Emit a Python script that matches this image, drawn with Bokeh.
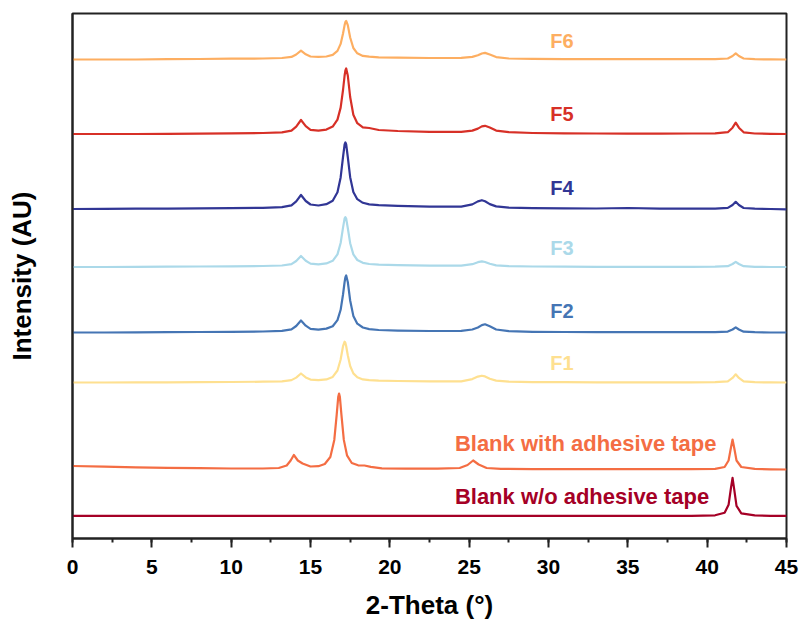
from bokeh.plotting import figure
from bokeh.models import Range1d, SingleIntervalTicker, FixedTicker, Label
from bokeh.embed import file_html
from bokeh.resources import INLINE

# ---- data -----------------------------------------------------------------
# 2-theta sampling for the six formulations
f_theta = [0, 2, 4, 6, 8, 10, 12, 13.2, 13.8, 14.1, 14.4, 14.7, 15.0, 15.5,
           16.0, 16.4, 16.7, 16.9, 17.05, 17.15, 17.2, 17.25, 17.35, 17.5,
           17.7, 17.95, 18.3, 18.7, 19.3, 20.5, 22.5, 24.5, 25.2, 25.55, 25.8,
           26.0, 26.3, 26.7, 27.5, 29, 31, 33, 35, 37, 39, 40.5, 41.3, 41.6,
           41.8, 42.0, 42.3, 43, 44, 45]

f6 = [0, 0, 0, 0.3, 0.5, 0.8, 1.0, 1.5, 2.6, 5.0, 8.8, 5.2, 3.0, 2.6,
      3.0, 4.6, 8.6, 15.6, 26.0, 34.4, 37.5, 38.5, 34.4, 22.0,
      11.5, 6.2, 3.6, 2.8, 2.2, 1.8, 1.5, 1.6, 2.6, 4.2, 6.0,
      6.6, 5.0, 2.4, 1.0, 0.6, 0.4, 0.3, 0.3, 0.3, 0.3, 0.4, 1.0, 3.5,
      6.2, 3.5, 1.0, 0.3, 0.1, 0]
f5 = [0, 0, 0, 0.2, 0.4, 0.6, 1.0, 1.6, 3.4, 7.4, 14.0, 7.8, 4.2, 3.3,
      4.4, 7.4, 14.4, 26.4, 44.0, 58.5, 63.5, 65.5, 58.5, 37.0,
      19.2, 10.8, 6.6, 6.0, 4.0, 3.0, 2.2, 2.2, 3.4, 5.4, 7.6,
      8.2, 6.5, 3.4, 1.8, 1.0, 0.6, 0.5, 0.4, 0.4, 0.5, 0.7, 1.8, 6.3,
      11.4, 6.3, 1.7, 0.5, 0.2, 0]
f4 = [0, 0.2, 0.3, 0.4, 0.6, 0.8, 1.2, 1.8, 3.6, 7.6, 14.0, 8.0, 4.5, 3.5,
      4.8, 8.2, 16.8, 31.6, 52.0, 64.5, 66.5, 64.5, 52.0, 31.8,
      17.0, 9.8, 6.2, 4.6, 3.8, 3.2, 2.4, 2.4, 4.6, 7.6, 8.8,
      7.8, 4.9, 2.6, 1.3, 0.8, 0.6, 0.5, 1.0, 0.4, 0.3, 0.4, 1.1, 4.0,
      7.2, 4.0, 1.0, 0.3, 0, -0.3]
f3 = [0, 0, 0.2, 0.3, 0.5, 0.7, 1.0, 1.5, 2.9, 6.0, 11.0, 6.2, 3.4, 2.7,
      3.6, 6.2, 12.6, 24.0, 39.4, 48.6, 49.8, 48.4, 39.0, 23.8,
      12.6, 7.0, 4.2, 3.0, 2.3, 1.8, 1.4, 1.4, 2.8, 4.8, 5.6,
      5.0, 3.2, 1.6, 0.8, 0.5, 0.3, 0.2, 0.2, 0.2, 0.2, 0.3, 0.8, 3.0,
      5.2, 3.0, 0.8, 0.2, 0, 0]
f2 = [0, 0, 0.2, 0.3, 0.5, 0.7, 1.0, 1.6, 3.1, 6.5, 12.0, 6.8, 3.7, 2.9,
      3.9, 6.3, 12.4, 22.7, 38.0, 50.5, 55.2, 57.0, 50.6, 32.0,
      16.6, 8.8, 5.0, 3.4, 2.5, 1.9, 1.5, 1.6, 3.0, 5.0, 7.4,
      8.2, 6.2, 3.0, 1.3, 0.7, 0.5, 0.4, 0.3, 0.3, 0.3, 0.4, 0.9, 3.0,
      5.2, 3.0, 0.8, 0.3, 0, 0]
f1 = [0, 0, 0.1, 0.2, 0.3, 0.5, 0.8, 1.2, 2.4, 4.9, 9.0, 5.1, 2.9, 2.3,
      3.1, 5.6, 12.0, 23.0, 36.3, 40.8, 39.6, 36.3, 27.3, 16.5,
      9.1, 5.3, 3.1, 2.3, 1.8, 1.5, 1.2, 1.2, 3.4, 5.9, 6.8,
      6.1, 3.8, 1.9, 0.8, 0.4, 0.3, 0.2, 0.2, 0.2, 0.2, 0.4, 1.2, 4.6,
      8.2, 4.6, 1.2, 0.3, 0.1, 0]

# 2-theta sampling for the two blanks
blank_theta = [0, 2, 4, 6, 8, 10, 12, 13.0, 13.5, 13.75, 13.95, 14.2, 14.5,
               15.0, 15.5, 15.9, 16.25, 16.5, 16.65, 16.75, 16.8, 16.85, 16.95,
               17.1, 17.3, 17.6, 18.0, 18.4, 18.8, 19.5, 21, 23,
               24.4, 24.9, 25.25, 25.6, 26.1, 27, 29, 31, 33, 35, 37, 39, 40.5,
               41.1, 41.35, 41.5, 41.6, 41.7, 41.85, 42.15, 43, 44, 45]
blank_tape = [3.5, 2.8, 2.2, 1.7, 1.3, 1.0, 1.0, 1.5, 4.0, 9.0, 14.5, 9.0, 6.0,
              3.0, 3.3, 5.5, 12.5, 29.6, 54.6, 72.8, 76.0, 72.8, 54.6,
              29.6, 14.2, 6.5, 4.2, 4.0, 2.6, 1.2, 0.8, 0.8,
              1.5, 4.5, 9.0, 5.0, 1.5, 0.6, 0.4, 0.3, 0.3, 0.3, 0.3, 0.3, 0.6,
              2.5, 9.0, 22.0, 30.0, 22.0, 9.0, 2.5, 0.6, 0.2, 0.0]
blank_no_tape = [0, 0, 0, 0, 0, 0, 0, 0, 0, 0, 0, 0, 0,
                 0, 0, 0, 0, 0, 0, 0, 0, 0, 0,
                 0, 0, 0, 0, 0, 0, 0, 0, 0,
                 0, 0, 0, 0, 0, 0, 0, 0, 0, 0, 0, 0, 0.5,
                 3.0, 11.0, 28.0, 38.0, 27.0, 10.0, 2.5, 0.5, 0, 0]

sample_names = ["F6", "F5", "F4", "F3", "F2", "F1",
                "Blank with adhesive tape", "Blank w/o adhesive tape"]
sample_theta = [f_theta] * 6 + [blank_theta, blank_theta]
sample_counts = [f6, f5, f4, f3, f2, f1, blank_tape, blank_no_tape]
# vertical stacking offset of each pattern
stack_offset = [479, 404.5, 329.5, 271.5, 206, 156, 69, 22.7]

# ---- styling ----------------------------------------------------------------
colors = ["#FDAE61", "#D73027", "#313695", "#ABD9E9", "#4575B4", "#FEE090",
          "#F46D43", "#A50026"]
label_x = [30.85, 30.85, 30.85, 30.85, 30.85, 30.85, 24.1, 24.1]
label_y = [497.3, 425, 351, 291, 228, 176, 95, 42]
label_align = ["center"] * 6 + ["left", "left"]
label_size = ["20px"] * 6 + ["22px", "22px"]

FONT = "Liberation Sans"
INK = "#222222"

p = figure(width=800, height=622, title=None,
           x_range=Range1d(0, 45), y_range=Range1d(0, 525),
           output_backend="svg", toolbar_location=None,
           min_border_left=72, min_border_right=14,
           min_border_top=13, min_border_bottom=84)
p.xgrid.visible = False
p.ygrid.visible = False
p.outline_line_color = INK
p.outline_line_width = 2
p.background_fill_color = "white"
p.border_fill_color = "white"

for theta, counts, off, col in zip(sample_theta, sample_counts, stack_offset, colors):
    p.line(theta, [c + off for c in counts], line_color=col, line_width=2.2,
           line_join="round")

for name, x, y, col, al, sz in zip(sample_names, label_x, label_y, colors,
                                   label_align, label_size):
    p.add_layout(Label(x=x, y=y, text=name, text_color=col, text_font=FONT,
                       text_font_style="bold", text_font_size=sz,
                       text_align=al, text_baseline="middle"))

xa = p.xaxis[0]
xa.ticker = SingleIntervalTicker(interval=5, num_minor_ticks=2)
xa.axis_line_width = 2
xa.axis_line_color = INK
xa.major_tick_line_width = 2
xa.major_tick_line_color = INK
xa.minor_tick_line_width = 2
xa.minor_tick_line_color = INK
xa.major_tick_in = 0
xa.major_tick_out = 9
xa.minor_tick_in = 0
xa.minor_tick_out = 4
xa.major_label_text_font = FONT
xa.major_label_text_font_style = "bold"
xa.major_label_text_font_size = "21px"
xa.major_label_text_color = "black"
xa.major_label_standoff = 12
xa.axis_label = "2-Theta (°)"
xa.axis_label_text_font = FONT
xa.axis_label_text_font_style = "bold"
xa.axis_label_text_font_size = "26px"
xa.axis_label_text_color = "black"
xa.axis_label_standoff = 13

ya = p.yaxis[0]
ya.ticker = FixedTicker(ticks=[])
ya.axis_line_width = 2
ya.axis_line_color = INK
ya.major_tick_line_color = None
ya.minor_tick_line_color = None
ya.major_label_text_font_size = "0px"
ya.axis_label = "Intensity (AU)"
ya.axis_label_text_font = FONT
ya.axis_label_text_font_style = "bold"
ya.axis_label_text_font_size = "26px"
ya.axis_label_text_color = "black"
ya.axis_label_standoff = 36

open("out.html", "w").write(file_html(p, INLINE))
